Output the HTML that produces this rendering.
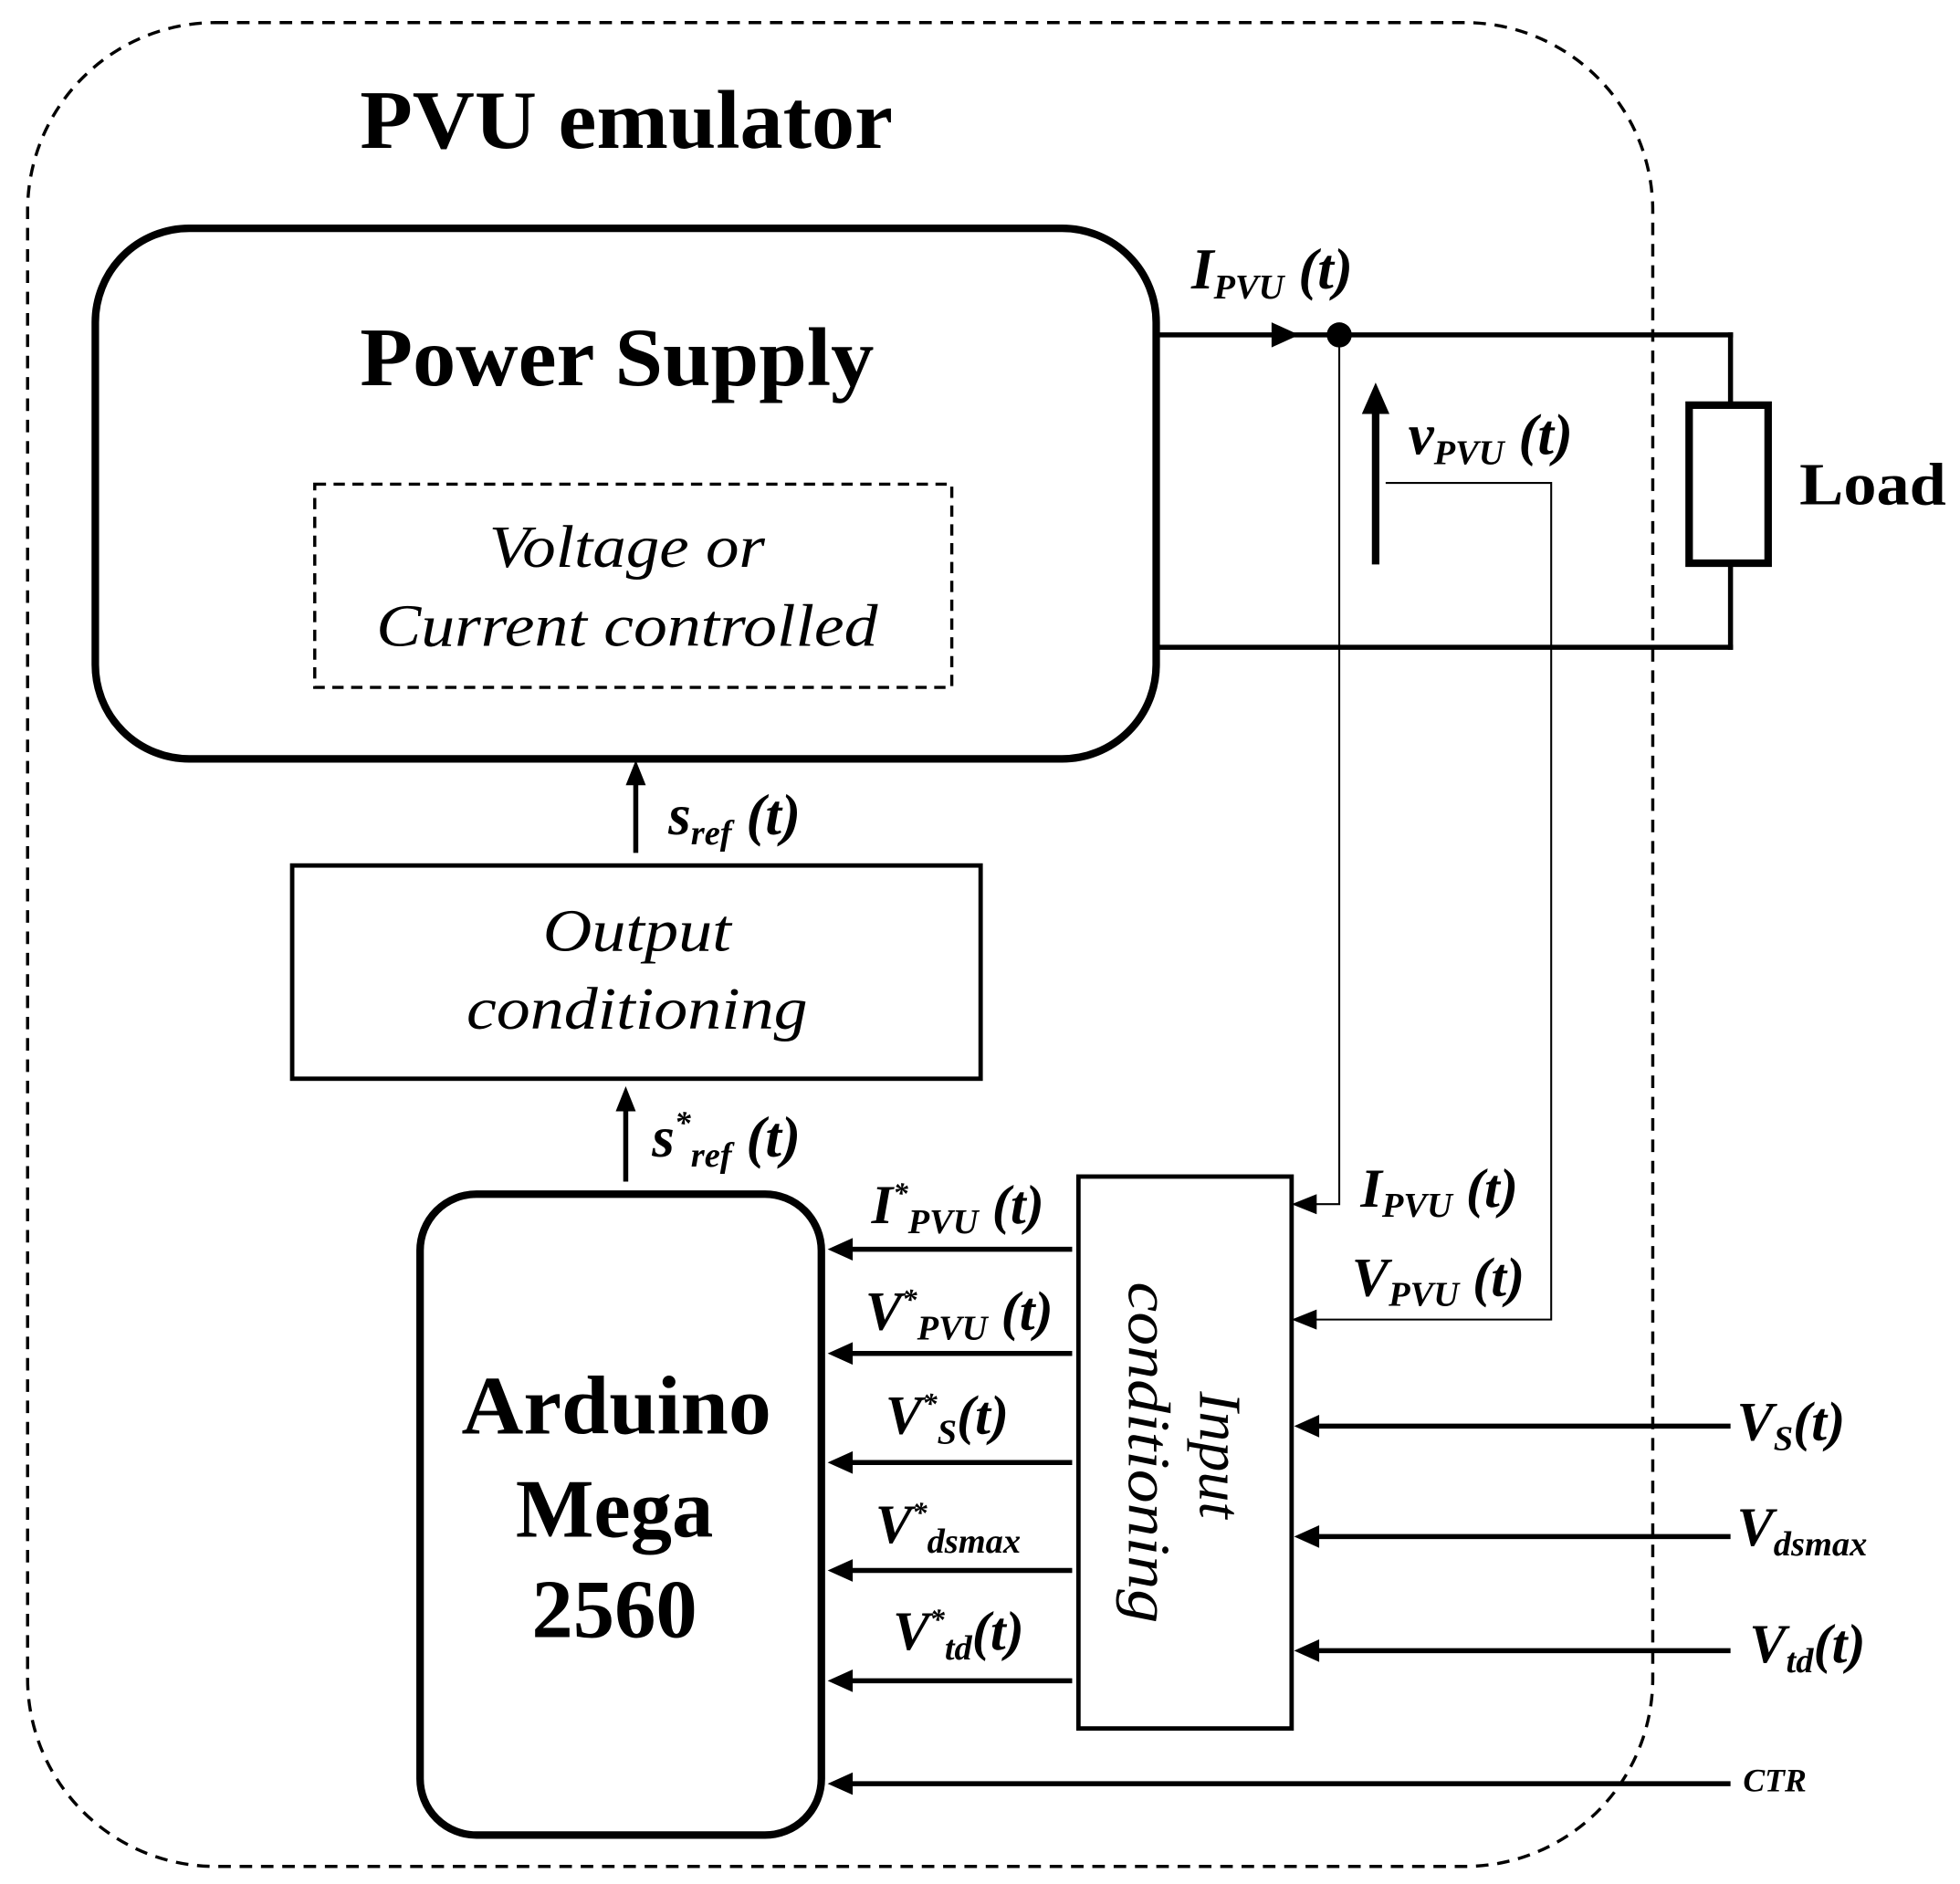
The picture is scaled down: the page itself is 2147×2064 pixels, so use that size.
<!DOCTYPE html>
<html><head><meta charset="utf-8"><style>
html,body{margin:0;padding:0;background:#fff;}
svg{display:block;}
text{font-family:"Liberation Serif",serif;fill:#000;}
.b{font-weight:bold;}
.bi{font-weight:bold;font-style:italic;}
.i{font-style:italic;}
</style></head><body>
<svg width="2147" height="2064" viewBox="0 0 1563 1502" preserveAspectRatio="none" xmlns="http://www.w3.org/2000/svg">
<rect x="22" y="18" width="1296" height="1470" rx="150" fill="none" stroke="#000" stroke-width="2.5" stroke-dasharray="10,7"/>
<text x="287" y="118" class="b" font-size="66" textLength="425" lengthAdjust="spacingAndGlyphs">PVU emulator</text>

<rect x="76" y="182" width="846" height="423" rx="75" fill="none" stroke="#000" stroke-width="6"/>
<text x="287" y="307" class="b" font-size="66" textLength="410" lengthAdjust="spacingAndGlyphs">Power Supply</text>
<rect x="251" y="386" width="508" height="162" fill="none" stroke="#000" stroke-width="2.5" stroke-dasharray="9,6"/>
<text x="390" y="452" class="i" font-size="48" textLength="220" lengthAdjust="spacingAndGlyphs">Voltage or</text>
<text x="300" y="515" class="i" font-size="48" textLength="400" lengthAdjust="spacingAndGlyphs">Current controlled</text>

<line x1="922" y1="267" x2="1382" y2="267" stroke="#000" stroke-width="4"/>
<path d="M1014,257 L1036,267 L1014,277 z" fill="#000"/>
<circle cx="1068" cy="267" r="10" fill="#000"/>
<line x1="1380" y1="265" x2="1380" y2="323" stroke="#000" stroke-width="4"/>
<rect x="1347" y="323" width="63" height="126" fill="none" stroke="#000" stroke-width="6"/>
<line x1="1380" y1="449" x2="1380" y2="518" stroke="#000" stroke-width="4"/>
<line x1="922" y1="516" x2="1382" y2="516" stroke="#000" stroke-width="4"/>
<text x="1435" y="402" class="b" font-size="48" textLength="117" lengthAdjust="spacingAndGlyphs">Load</text>
<text x="950" y="230" class="bi" font-size="46">I<tspan font-size="28" dy="8">PVU</tspan><tspan dy="-8"> (t)</tspan></text>

<line x1="1097" y1="450" x2="1097" y2="325" stroke="#000" stroke-width="6"/>
<path d="M1086,330 L1097,305 L1108,330 z" fill="#000"/>
<text x="1123" y="362" class="bi" font-size="46">v<tspan font-size="28" dy="8">PVU</tspan><tspan dy="-8"> (t)</tspan></text>

<polyline points="1068,267 1068,960 1036,960" fill="none" stroke="#000" stroke-width="1.5"/>
<path d="M1050,952 L1030,960 L1050,968 z" fill="#000"/>
<polyline points="1105,385 1237,385 1237,1052 1036,1052" fill="none" stroke="#000" stroke-width="1.5"/>
<path d="M1050,1044 L1030,1052 L1050,1060 z" fill="#000"/>

<line x1="507" y1="680" x2="507" y2="622" stroke="#000" stroke-width="4"/>
<path d="M499,626 L507,606 L515,626 z" fill="#000"/>
<text x="533" y="665" class="bi" font-size="46">s<tspan font-size="28" dy="8">ref</tspan><tspan dy="-8"> (t)</tspan></text>

<rect x="233" y="690" width="549" height="170" fill="none" stroke="#000" stroke-width="3.5"/>
<text x="433" y="758" class="i" font-size="48" textLength="150" lengthAdjust="spacingAndGlyphs">Output</text>
<text x="372" y="820" class="i" font-size="48" textLength="272" lengthAdjust="spacingAndGlyphs">conditioning</text>

<line x1="499" y1="942" x2="499" y2="882" stroke="#000" stroke-width="4"/>
<path d="M491,886 L499,866 L507,886 z" fill="#000"/>
<text x="520" y="922" class="bi" font-size="46">s<tspan font-size="26" dy="-18">*</tspan><tspan font-size="28" dy="26">ref</tspan><tspan dy="-8"> (t)</tspan></text>

<rect x="335" y="952" width="320" height="511" rx="45" fill="none" stroke="#000" stroke-width="6"/>
<text x="368" y="1143" class="b" font-size="66" textLength="247" lengthAdjust="spacingAndGlyphs">Arduino</text>
<text x="490" y="1225" class="b" font-size="66" text-anchor="middle">Mega</text>
<text x="490" y="1305" class="b" font-size="66" text-anchor="middle">2560</text>

<rect x="860" y="938" width="170" height="440" fill="none" stroke="#000" stroke-width="3.5"/>
<text transform="translate(955,1160) rotate(90)" class="i" font-size="48" text-anchor="middle" x="0" y="-2">Input</text>
<text transform="translate(890,1158) rotate(90)" class="i" font-size="48" x="-136" y="-10" textLength="272" lengthAdjust="spacingAndGlyphs">conditioning</text>

<g stroke="#000" stroke-width="4">
<line x1="855" y1="996" x2="672" y2="996"/>
<line x1="855" y1="1079" x2="672" y2="1079"/>
<line x1="855" y1="1166" x2="672" y2="1166"/>
<line x1="855" y1="1252" x2="672" y2="1252"/>
<line x1="855" y1="1340" x2="672" y2="1340"/>
<line x1="1380" y1="1422" x2="672" y2="1422"/>
<line x1="1380" y1="1137" x2="1046" y2="1137"/>
<line x1="1380" y1="1225" x2="1046" y2="1225"/>
<line x1="1380" y1="1316" x2="1046" y2="1316"/>
</g>
<g fill="#000">
<path d="M680,987 L660,996 L680,1005 z"/>
<path d="M680,1070 L660,1079 L680,1088 z"/>
<path d="M680,1157 L660,1166 L680,1175 z"/>
<path d="M680,1243 L660,1252 L680,1261 z"/>
<path d="M680,1331 L660,1340 L680,1349 z"/>
<path d="M680,1413 L660,1422 L680,1431 z"/>
<path d="M1052,1128 L1032,1137 L1052,1146 z"/>
<path d="M1052,1216 L1032,1225 L1052,1234 z"/>
<path d="M1052,1307 L1032,1316 L1052,1325 z"/>
</g>

<text x="695" y="975" class="bi" font-size="44">I<tspan font-size="24" dy="-16">*</tspan><tspan font-size="28" dy="24">PVU</tspan><tspan dy="-8"> (t)</tspan></text>
<text x="690" y="1060" class="bi" font-size="44">V<tspan font-size="24" dy="-16">*</tspan><tspan font-size="28" dy="24">PVU</tspan><tspan dy="-8"> (t)</tspan></text>
<text x="706" y="1143" class="bi" font-size="44">V<tspan font-size="24" dy="-16">*</tspan><tspan font-size="28" dy="24">S</tspan><tspan dy="-8">(t)</tspan></text>
<text x="698" y="1230" class="bi" font-size="44">V<tspan font-size="24" dy="-16">*</tspan><tspan font-size="28" dy="24">dsmax</tspan></text>
<text x="712" y="1315" class="bi" font-size="44">V<tspan font-size="24" dy="-16">*</tspan><tspan font-size="28" dy="24">td</tspan><tspan dy="-8">(t)</tspan></text>

<text x="1085" y="962" class="bi" font-size="44">I<tspan font-size="28" dy="8">PVU</tspan><tspan dy="-8"> (t)</tspan></text>
<text x="1078" y="1033" class="bi" font-size="44">V<tspan font-size="28" dy="8">PVU</tspan><tspan dy="-8"> (t)</tspan></text>
<text x="1385" y="1148" class="bi" font-size="44">V<tspan font-size="28" dy="8">S</tspan><tspan dy="-8">(t)</tspan></text>
<text x="1385" y="1232" class="bi" font-size="44">V<tspan font-size="28" dy="8">dsmax</tspan></text>
<text x="1395" y="1325" class="bi" font-size="44">V<tspan font-size="28" dy="8">td</tspan><tspan dy="-8">(t)</tspan></text>
<text x="1390" y="1428" class="bi" font-size="26">CTR</text>
</svg>
</body></html>
